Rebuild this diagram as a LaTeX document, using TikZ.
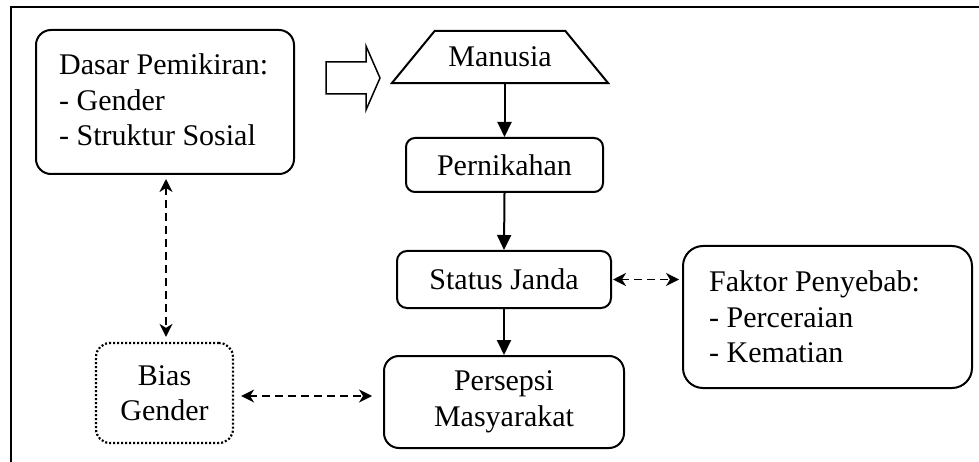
\documentclass[tikz,border=0pt]{standalone}
\usepackage{fontspec}
\setmainfont{Liberation Serif}
\usetikzlibrary{arrows.meta}
\begin{document}
\begin{tikzpicture}[x=1pt,y=-1pt,
  txt/.style={font=\fontsize{30}{35.5}\selectfont},
  box/.style={txt, draw, line width=2pt, rounded corners=#1, inner sep=0pt, align=center},
  box/.default=10pt,
  solidarrow/.style={line width=2pt, -{Triangle[length=15pt,width=14pt]}},
  dasharrow/.style={line width=1.8pt, dash pattern=on 8pt off 5pt,
    {Stealth[length=13pt,width=13pt,inset=4pt]}-{Stealth[length=13pt,width=13pt,inset=4pt]}},
]
\useasboundingbox (0,0) rectangle (979,462);
% outer frame
\draw[line width=1.5pt] (11,462) -- (11,7) -- (979,7);

% nodes
\node[box=15pt, minimum width=258, minimum height=144] (dasar) at (165,102) {};
\node[txt, align=left, anchor=west, inner sep=0pt] (dasartext) at ([xshift=24pt,yshift=2pt]dasar.west)
  {Dasar Pemikiran:\\- Gender\\- Struktur Sosial};
\node[txt, minimum width=216, minimum height=52, inner sep=0pt] (man) at (500,57) {Manusia};
\draw[line width=2pt] (man.south west) -- (man.south east) -- ([xshift=-43pt]man.north east)
  -- ([xshift=43pt]man.north west) -- cycle;
\node[box=9pt, minimum width=197, minimum height=54] (pern) at (504.5,165) {Pernikahan};
\node[box=10pt, minimum width=214, minimum height=57] (status) at (504,279.5) {Status Janda};
\node[box=20pt, minimum width=289, minimum height=142] (faktor) at (827.5,317) {};
\node[txt, align=left, anchor=west, inner sep=0pt] (faktortext) at ([xshift=27pt]faktor.west)
  {Faktor Penyebab:\\- Perceraian\\- Kematian};
\node[box=14pt, minimum width=137, minimum height=100, dash pattern=on 2pt off 2pt, line width=2.2pt] (bias) at (164.5,393)
  {Bias\\Gender};
\node[box=15pt, minimum width=240, minimum height=92] (persepsi) at (504,402)
  {Persepsi\\Masyarakat};

% block arrow
\draw[line width=1.5pt] (326,62) -- (366,62) -- (366,46) -- (380,78) -- (366,110) -- (366,94) -- (326,94) -- cycle;

% connectors
\draw[solidarrow] (pern.north |- man.south) -- (pern.north);
\draw[solidarrow] (pern.south) -- (status.north);
\draw[solidarrow] (status.south) -- (persepsi.north);
\draw[dasharrow, shorten <=1pt, shorten >=3pt] (status.east) -- (status.east -| faktor.west);
\draw[dasharrow, shorten <=4pt, shorten >=5pt] ([xshift=1pt]dasar.south) -- ([xshift=1.5pt]bias.north);
\draw[dasharrow, shorten <=7pt, shorten >=11pt] ([yshift=-3pt]bias.east) -- ([yshift=-3pt]persepsi.west |- bias.east);
\end{tikzpicture}
\end{document}
